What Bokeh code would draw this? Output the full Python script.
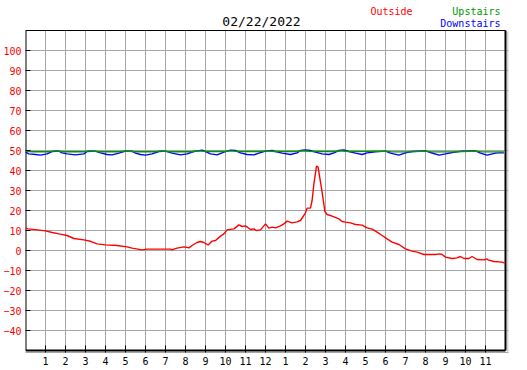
from bokeh.plotting import figure
from bokeh.models import Label, FixedTicker, Range1d
from bokeh.embed import file_html
from bokeh.resources import INLINE

title_text = "02/22/2022"
series_names = ["Outside", "Upstairs", "Downstairs"]

outside_hours = [0, 0.12, 0.6, 1.0, 1.33, 1.67, 2.08, 2.42, 2.92, 3.25, 3.58, 4.0, 4.58, 5.08, 5.33, 5.83,
                 6.08, 7.25, 7.33, 7.42, 7.58, 7.92, 8.0, 8.17, 8.33, 8.58, 8.75, 8.92, 9.13, 9.33, 9.5,
                 9.75, 9.92, 10.08, 10.42, 10.67, 10.83, 11.0, 11.25, 11.42, 11.53, 11.75, 12.0, 12.17,
                 12.33, 12.5, 12.75, 12.92, 13.08, 13.33, 13.58, 13.75, 14.0, 14.08, 14.25, 14.33, 14.42,
                 14.55, 14.63, 14.75, 14.83, 14.97, 15.08, 15.33, 15.67, 15.83, 16.0, 16.25, 16.5, 16.83,
                 17.08, 17.33, 17.58, 17.83, 18.08, 18.33, 18.67, 19.0, 19.33, 19.58, 19.92, 20.5, 20.72,
                 20.83, 21.0, 21.33, 21.58, 21.75, 21.92, 22.17, 22.33, 22.58, 22.92, 23.08, 23.13, 23.42,
                 23.83, 23.97]
outside_temp = [11.3, 10.8, 10.3, 9.8, 9.0, 8.3, 7.5, 6.0, 5.3, 4.6, 3.3, 2.8, 2.5, 1.8, 1.2, 0.3,
                0.7, 0.7, 0.3, 0.7, 1.2, 1.8, 1.7, 1.3, 2.5, 4.0, 4.5, 4.0, 2.8, 4.7, 5.0,
                7.2, 8.3, 10.3, 10.8, 12.8, 12.0, 12.3, 10.5, 10.8, 10.0, 10.3, 13.3, 11.2,
                11.7, 11.3, 12.3, 13.3, 14.7, 13.8, 14.3, 15.0, 18.8, 21.2, 21.2, 25.0, 33.3,
                42.2, 41.7, 34.2, 29.2, 19.5, 18.0, 17.2, 15.8, 14.5, 14.2, 13.8, 13.0, 12.7,
                11.3, 10.7, 9.2, 7.5, 5.8, 4.2, 3.0, 0.8, -0.3, -0.8, -2.0, -2.0, -1.7,
                -2.0, -3.3, -4.0, -3.7, -3.0, -4.0, -4.0, -3.0, -4.5, -4.7, -4.2, -4.7, -5.5,
                -5.8, -6.3]

up_hours = [0, 0.3, 1.2, 1.5, 1.9, 2.9, 3.2, 3.7, 4.7, 5.0, 5.4, 6.5, 6.8, 7.2, 8.3, 8.6, 9.1, 9.9,
            10.2, 10.7, 11.7, 12.0, 12.5, 13.5, 13.8, 14.4, 15.4, 15.7, 16.2, 17.3, 18.0, 18.3, 19.2,
            20.0, 20.3, 21.5, 22.5, 22.8, 23.92]
up_temp = [49.7, 49.4, 49.4, 49.8, 49.4, 49.4, 49.8, 49.4, 49.4, 49.8, 49.4, 49.4, 49.8, 49.4, 49.4,
           49.8, 49.5, 49.5, 49.8, 49.5, 49.5, 49.8, 49.5, 49.5, 49.8, 49.5, 49.5, 49.8, 49.5, 49.6,
           49.7, 49.3, 49.3, 49.7, 49.3, 49.4, 49.7, 49.3, 49.3]

down_hours = [0, 0.17, 0.5, 0.75, 1.08, 1.33, 1.67, 1.83, 2.08, 2.5, 2.92, 3.08, 3.5, 3.75, 4.08, 4.33,
              4.67, 5.0, 5.33, 5.5, 5.75, 6.0, 6.33, 6.67, 7.0, 7.33, 7.75, 8.08, 8.42, 8.83, 9.0, 9.25,
              9.58, 9.92, 10.25, 10.5, 10.75, 11.08, 11.42, 11.67, 12.0, 12.33, 12.5, 12.83, 13.25,
              13.58, 13.75, 14.0, 14.25, 14.5, 14.83, 15.17, 15.42, 15.67, 15.92, 16.17, 16.5, 16.83,
              17.08, 17.5, 18.0, 18.25, 18.67, 19.0, 19.33, 20.0, 20.25, 20.67, 21.0, 21.33, 21.83,
              22.5, 22.75, 23.08, 23.5, 23.67, 23.92]
down_temp = [49.2, 48.3, 48.0, 47.7, 48.3, 49.5, 49.7, 48.8, 48.3, 47.8, 48.3, 49.5, 49.7, 48.8, 48.0,
             47.8, 48.7, 49.7, 49.7, 48.7, 48.0, 47.7, 48.3, 49.5, 49.7, 48.7, 47.8, 48.3, 49.5, 50.2,
             49.5, 48.3, 47.8, 49.2, 50.2, 50.0, 48.8, 48.0, 47.8, 48.7, 49.7, 50.0, 49.5, 48.7, 48.0,
             48.8, 50.0, 50.3, 50.0, 49.2, 48.3, 48.0, 48.8, 50.0, 50.3, 49.5, 48.7, 48.0, 48.8, 49.3,
             49.7, 48.7, 47.7, 48.8, 49.5, 49.8, 49.0, 47.7, 48.3, 49.0, 49.7, 49.8, 48.7, 47.7, 48.7,
             48.8, 48.8]

x_min, x_max = 0, 24
y_min, y_max = -50, 110
x_ticks = list(range(1, 24))
x_tick_labels = ["1", "2", "3", "4", "5", "6", "7", "8", "9", "10", "11", "12",
                 "1", "2", "3", "4", "5", "6", "7", "8", "9", "10", "11"]
y_ticks = [100, 90, 80, 70, 60, 50, 40, 30, 20, 10, 0, -10, -20, -30, -40]

RED = "#ff0000"
GREEN = "#009900"
BLUE = "#0000ff"
GRID = "#a6a6a6"
FONT = "DejaVu Sans Mono"

# header space above the plot box is part of the frame (y up to 125)
p = figure(width=527, height=370, output_backend="svg", toolbar_location=None,
           x_range=Range1d(x_min, 24.15), y_range=Range1d(-51, 125),
           min_border_left=25, min_border_right=19, min_border_top=0, min_border_bottom=18)
p.background_fill_color = "white"
p.border_fill_color = "white"
p.outline_line_color = None
p.xgrid.visible = False
p.ygrid.ticker = FixedTicker(ticks=y_ticks)
p.ygrid.grid_line_color = GRID

p.xaxis.ticker = FixedTicker(ticks=x_ticks)
p.xaxis.major_label_overrides = {t: l for t, l in zip(x_ticks, x_tick_labels)}
p.yaxis.ticker = FixedTicker(ticks=y_ticks)
for ax in (p.xaxis, p.yaxis):
    ax.major_tick_in = 5
    ax.major_tick_out = 0
    ax.minor_tick_in = 0
    ax.minor_tick_out = 0
    ax.major_tick_line_color = "black"
    ax.major_label_text_font = FONT
    ax.major_label_text_font_size = "10px"
p.xaxis.major_tick_in = 7
p.xaxis.axis_line_color = GRID
p.xaxis.axis_line_width = 1
p.xaxis.major_label_text_color = "black"
p.xaxis.major_label_standoff = 4
p.yaxis.axis_line_color = None
p.yaxis.major_label_text_color = RED
p.yaxis.major_label_standoff = 4

# vertical grid lines, limited to the plot box
p.segment(x0=x_ticks, y0=[y_min] * len(x_ticks), x1=x_ticks, y1=[y_max] * len(x_ticks),
          line_color=GRID, line_width=1)
# plot box
p.segment(x0=[x_min, x_min], y0=[y_min, y_max], x1=[x_min, x_max], y1=[y_max, y_max],
          line_color="black", line_width=[2, 1])
p.segment(x0=[x_max, x_min], y0=[y_min, y_min], x1=[x_max, x_max], y1=[y_max, y_min],
          line_color="black", line_width=2)
p.segment(x0=[x_max + 0.125], y0=[y_min - 0.75], x1=[x_max + 0.125], y1=[y_max - 0.5],
          line_color=GRID, line_width=1)

p.line(down_hours, down_temp, line_color=BLUE, line_width=1.4)
p.line(up_hours, up_temp, line_color=GREEN, line_width=1.4)
p.line(outside_hours, outside_temp, line_color=RED, line_width=1.4)

p.add_layout(Label(x=11.8, y=114.5, text=title_text, text_align="center",
                   text_baseline="alphabetic", text_font=FONT, text_font_size="13px",
                   text_color="black"))
p.add_layout(Label(x=17.25, y=119.5, text=series_names[0], text_align="left",
                   text_baseline="alphabetic", text_font=FONT, text_font_size="10px",
                   text_color=RED))
p.add_layout(Label(x=23.75, y=119.5, text=series_names[1], text_align="right",
                   text_baseline="alphabetic", text_font=FONT, text_font_size="10px",
                   text_color=GREEN))
p.add_layout(Label(x=23.75, y=113.5, text=series_names[2], text_align="right",
                   text_baseline="alphabetic", text_font=FONT, text_font_size="10px",
                   text_color=BLUE))

open("out.html", "w").write(file_html(p, INLINE))
